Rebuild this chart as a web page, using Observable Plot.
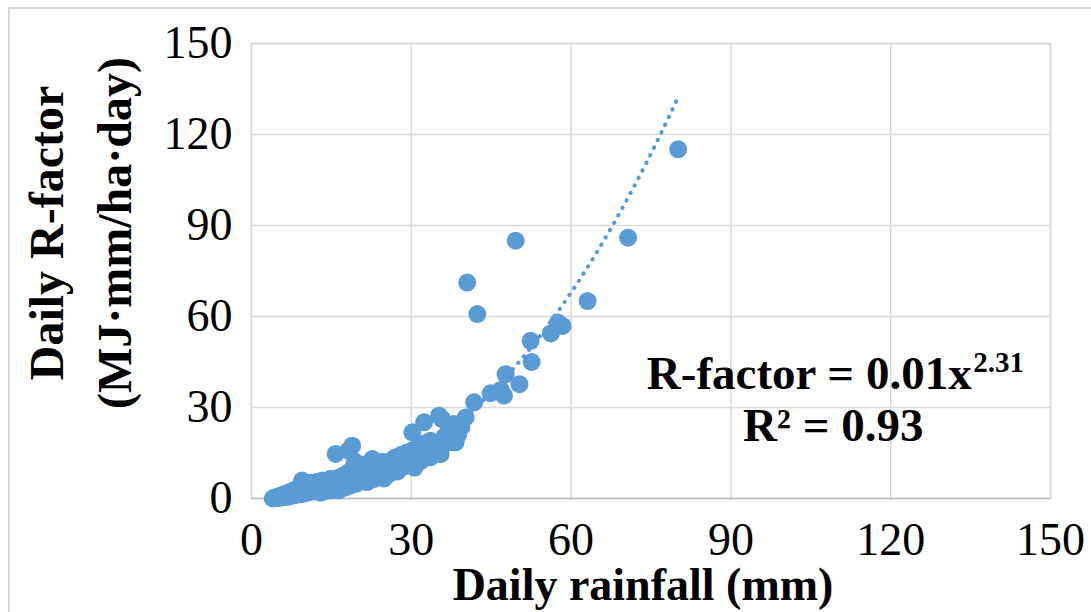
<!DOCTYPE html>
<html>
<head>
<meta charset="utf-8">
<script src="https://cdn.jsdelivr.net/npm/d3@7"></script>
<script src="https://cdn.jsdelivr.net/npm/@observablehq/plot@0.6"></script>
<style>
  html, body { margin: 0; padding: 0; background: #fff; overflow: hidden; }
  #wrap { position: relative; width: 1091px; height: 612px; overflow: hidden; }
  #border { position: absolute; left: 8px; top: 7px; width: 1100px; height: 620px;
            border-left: 2px solid #d9d9d9; border-top: 2px solid #d9d9d9; }
  #chart { position: absolute; left: 0; top: 0; }
</style>
</head>
<body>
<div id="wrap"><div id="border"></div><div id="chart"></div></div>
<script>
// Daily rainfall (mm) and the matching daily R-factor (MJ·mm/ha·day)
const rainfall = [
  4.0, 4.3, 4.6, 4.9, 5.2, 5.5, 5.8, 6.1, 6.4, 6.7,
  7.0, 7.3, 7.6, 7.9, 8.2, 8.5, 8.8, 9.1, 9.4, 9.5,
  9.7, 10.0, 10.3, 10.6, 10.9, 11.2, 11.5, 11.8, 12.1, 12.4,
  12.7, 13.0, 13.3, 13.6, 13.9, 14.2, 14.5, 14.8, 15.1, 15.4,
  15.8, 15.7, 16.0, 16.4, 16.4, 16.8, 17.2, 17.5, 17.8, 18.2,
  18.2, 18.5, 18.9, 18.9, 19.2, 19.4, 19.6, 19.9, 20.3, 20.6,
  21.0, 21.3, 21.7, 22.0, 22.4, 22.7, 22.9, 23.3, 23.6, 24.0,
  24.3, 24.6, 24.9, 25.3, 25.6, 26.0, 26.3, 26.7, 27.0, 27.4,
  27.7, 28.1, 28.4, 28.8, 29.2, 29.5, 29.9, 30.2, 30.3, 30.6,
  31.0, 31.4, 31.8, 32.2, 32.4, 32.6, 33.0, 33.6, 33.6, 34.0,
  34.6, 35.2, 35.5, 35.8, 35.8, 36.3, 37.1, 37.5, 38.0, 38.3,
  38.8, 39.4, 40.2, 40.5, 41.8, 42.4, 44.9, 46.8, 47.4, 47.7,
  49.6, 50.3, 52.4, 52.6, 56.2, 57.5, 58.4, 63.1, 70.7, 80.1
];
const rfactor = [
  0.0, 0.3, 0.1, 0.6, 0.2, 1.0, 0.4, 1.4, 0.6, 1.8,
  0.6, 2.2, 1.0, 2.6, 1.1, 3.1, 1.5, 4.0, 1.4, 5.9,
  2.8, 1.8, 4.5, 2.0, 3.5, 5.2, 2.3, 4.1, 2.4, 5.5,
  3.2, 1.9, 5.9, 3.6, 2.4, 4.8, 3.0, 6.5, 2.7, 4.6,
  14.7, 3.3, 5.6, 6.9, 2.7, 4.1, 7.6, 3.6, 5.8, 15.8,
  8.6, 4.2, 17.4, 6.8, 10.6, 12.2, 4.8, 8.0, 5.6, 9.7,
  6.7, 11.2, 5.4, 8.2, 10.0, 13.0, 6.4, 9.0, 11.6, 7.2,
  10.3, 12.1, 6.6, 9.4, 11.3, 8.3, 12.6, 10.2, 13.5, 8.9,
  11.6, 14.4, 10.4, 12.7, 15.2, 11.2, 13.6, 21.8, 16.0, 10.2,
  14.3, 17.0, 12.4, 15.6, 25.1, 18.2, 14.0, 13.6, 19.0, 16.5,
  18.0, 27.3, 14.6, 26.2, 17.4, 20.5, 22.9, 18.6, 24.6, 18.5,
  21.0, 23.5, 26.7, 71.2, 31.7, 60.8, 34.7, 35.8, 33.9, 41.0,
  85.0, 37.7, 52.0, 45.0, 54.4, 58.0, 56.9, 65.1, 86.0, 115.1
];

// Axis ticks
const xTicks = [0, 30, 60, 90, 120, 150];
const yTicks = [0, 30, 60, 90, 120, 150];

// Power-law fit R = a·P^b
const fitCoef = 0.0053;
const fitExp = 2.31;
const fitR2 = 0.93;

const xTitle = "Daily rainfall (mm)";
const yTitleLines = ["Daily R-factor", "(MJ·mm/ha·day)"];

const points = rainfall.map((p, i) => ({rain: p, r: rfactor[i]}));

// Fitted curve over the observed rainfall range
const pMin = d3.min(rainfall), pMax = d3.max(rainfall);
const fitCurve = d3.range(pMin, pMax, 0.5).concat([pMax])
  .map(p => ({rain: p, r: fitCoef * Math.pow(p, fitExp)}));

// Equation annotation anchors (data units)
const eqMain = [{rain: 135.2, r: 36.2, text: `R-factor = ${fitCoef.toFixed(2)}x`}];
const eqSup = [{rain: 135.5, r: 41.8, text: `${fitExp}`}];
const eqR2 = [{rain: 109.2, r: 19.1, text: `R² = ${fitR2}`}];

const blue = "#5B9BD5";
const grid = "#D9D9D9";
const serif = "'Liberation Serif', 'Times New Roman', Times, serif";

const chart = Plot.plot({
  width: 1091,
  height: 612,
  marginLeft: 251,
  marginRight: 41,
  marginTop: 43,
  marginBottom: 114,
  style: {fontFamily: serif, fontSize: "46px", color: "#000", background: "transparent", overflow: "visible"},
  x: {domain: [0, 150], ticks: xTicks, tickSize: 0, tickPadding: 24, label: null},
  y: {domain: [0, 150], ticks: yTicks, tickSize: 0, tickPadding: 19, label: null},
  marks: [
    Plot.gridX(xTicks, {stroke: grid, strokeOpacity: 1, strokeWidth: 1.5}),
    Plot.gridY(yTicks, {stroke: grid, strokeOpacity: 1, strokeWidth: 1.5}),
    Plot.frame({stroke: grid, strokeWidth: 1.5}),
    Plot.ruleY([0], {stroke: "#BFBFBF", strokeWidth: 1.5}),
    Plot.dot(points, {x: "rain", y: "r", r: 9, fill: blue, stroke: "none"}),
    Plot.line(fitCurve, {x: "rain", y: "r", stroke: blue, strokeWidth: 4,
      strokeDasharray: "0.5 8", strokeLinecap: "round"}),
    Plot.text(eqMain, {x: "rain", y: "r", text: "text", textAnchor: "end", lineAnchor: "bottom",
      fontSize: 47, fontWeight: "bold", fill: "#000"}),
    Plot.text(eqSup, {x: "rain", y: "r", text: "text", textAnchor: "start", lineAnchor: "bottom",
      fontSize: 29, fontWeight: "bold", fill: "#000"}),
    Plot.text(eqR2, {x: "rain", y: "r", text: "text", textAnchor: "middle", lineAnchor: "bottom",
      fontSize: 47, fontWeight: "bold", fill: "#000"}),
    Plot.text([xTitle], {frameAnchor: "bottom", dx: -8, dy: 101, lineAnchor: "bottom",
      fontSize: 46, fontWeight: "bold", fill: "#000"}),
    Plot.text([yTitleLines[0]], {frameAnchor: "left", rotate: -90, dx: -204, dy: -38,
      textAnchor: "middle", lineAnchor: "middle", fontSize: 48, fontWeight: "bold", fill: "#000"}),
    Plot.text([yTitleLines[1]], {frameAnchor: "left", rotate: -90, dx: -136, dy: -38,
      textAnchor: "middle", lineAnchor: "middle", fontSize: 48, fontWeight: "bold", fill: "#000"})
  ]
});

document.getElementById("chart").appendChild(chart);
</script>
</body>
</html>
